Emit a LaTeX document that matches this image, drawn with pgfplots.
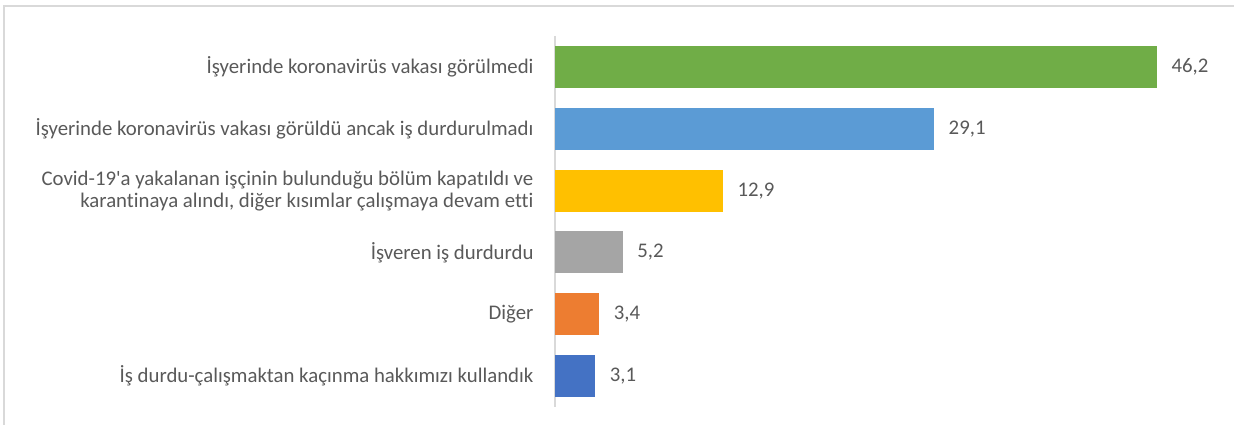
\documentclass[border=0pt]{standalone}
\usepackage{pgfplots}
\pgfplotsset{compat=1.18}
\usepackage{fontspec}
\setmainfont{Carlito}[Ligatures={NoCommon,TeXOff}]
\definecolor{cgreen}{HTML}{70AD47}
\definecolor{cblue}{HTML}{5B9BD5}
\definecolor{cyellow}{HTML}{FFC000}
\definecolor{cgray}{HTML}{A5A5A5}
\definecolor{corange}{HTML}{ED7D31}
\definecolor{cdblue}{HTML}{4472C4}
\definecolor{txt}{HTML}{595959}
\definecolor{frame}{HTML}{D9D9D9}
\begin{document}
\begin{tikzpicture}[x=1pt,y=1pt]
\useasboundingbox (0,0) rectangle (1234,425);
\draw[color=frame, line width=1.5pt] (4,0) -- (4,419) -- (1234,419);
\begin{axis}[
  at={(555pt,18pt)}, anchor=south west, scale only axis,
  width=651.5pt, height=371pt,
  xmin=0, xmax=50, ymin=-0.5, ymax=5.5, y dir=reverse,
  xbar, bar width=42pt, bar shift=0pt,
  axis x line=none, axis y line=left,
  y axis line style={draw=frame, line width=1.5pt, -},
  ytick={0,1,2,3,4,5}, major tick length=0pt,
  yticklabels={{İşyerinde koronavirüs vakası görülmedi},
    {İşyerinde koronavirüs vakası görüldü ancak iş durdurulmadı},
    {Covid-19'a yakalanan işçinin bulunduğu bölüm kapatıldı ve\\karantinaya alındı, diğer kısımlar çalışmaya devam etti},
    {İşveren iş durdurdu},
    {Diğer},
    {İş durdu-çalışmaktan kaçınma hakkımızı kullandık}},
  yticklabel style={font=\fontsize{20.8}{22}\selectfont, text=txt, align=right, anchor=east, xshift=-18pt},
  nodes near coords,
  nodes near coords style={font=\fontsize{20.8}{22}\selectfont, text=txt, anchor=west, xshift=11pt},
  /pgf/number format/.cd, use comma, fixed, precision=1, fixed zerofill, assume math mode=true,
]
\addplot[fill=cgreen, draw=none] coordinates {(46.2,0)};
\addplot[fill=cblue, draw=none] coordinates {(29.1,1)};
\addplot[fill=cyellow, draw=none] coordinates {(12.9,2)};
\addplot[fill=cgray, draw=none] coordinates {(5.2,3)};
\addplot[fill=corange, draw=none] coordinates {(3.4,4)};
\addplot[fill=cdblue, draw=none] coordinates {(3.1,5)};
\end{axis}
\end{tikzpicture}
\end{document}
